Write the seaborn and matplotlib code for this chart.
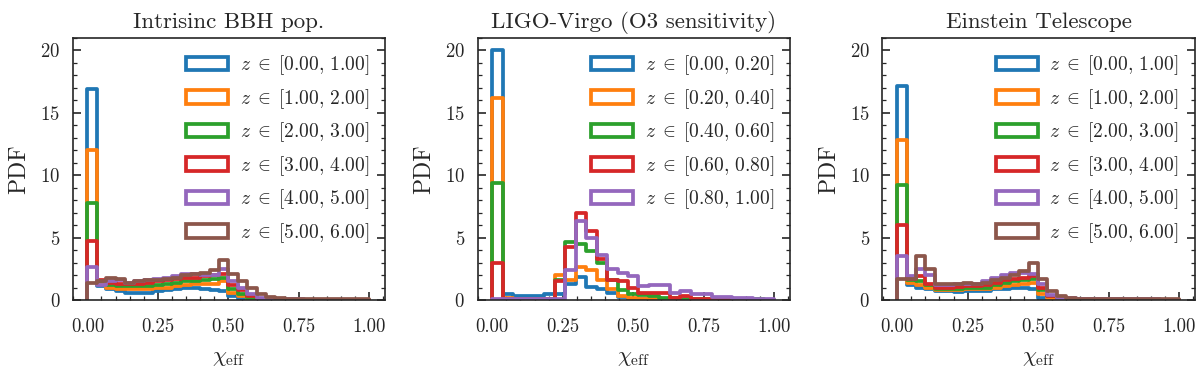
import numpy as np
import pandas as pd
import matplotlib.pyplot as plt
import seaborn as sns
from matplotlib.patches import Patch
from matplotlib.ticker import MultipleLocator

# histogram bin edges of chi_eff for each panel
edges_pop = np.linspace(0, 1, 31)
edges_lvk = np.linspace(0, 1, 28)
edges_et = np.linspace(0, 1, 31)

# redshift bins (legend)
zbins_pop = [0.0, 1.0, 2.0, 3.0, 4.0, 5.0, 6.0]
zbins_lvk = [0.0, 0.2, 0.4, 0.6, 0.8, 1.0]
zbins_et = [0.0, 1.0, 2.0, 3.0, 4.0, 5.0, 6.0]

titles = ["Intrisinc BBH pop.", "LIGO-Virgo (O3 sensitivity)", "Einstein Telescope"]

# PDF heights, panel 1: intrinsic population
pop_z0 = [16.9, 1.1, 0.9, 0.7, 0.6, 0.6, 0.6, 0.7, 0.8, 0.9,
          1.0, 1.0, 0.9, 0.8, 0.7, 0.3, 0.1, 0.02, 0.01, 0.0,
          0.0, 0.0, 0.0, 0.0, 0.0, 0.0, 0.0, 0.0, 0.0, 0.0]
pop_z1 = [12.0, 1.3, 1.0, 0.9, 0.9, 0.9, 0.9, 1.0, 1.0, 1.1,
          1.2, 1.3, 1.3, 1.3, 1.5, 0.6, 0.3, 0.1, 0.03, 0.02,
          0.02, 0.02, 0.01, 0.01, 0.01, 0.01, 0.01, 0.0, 0.0, 0.0]
pop_z2 = [7.8, 1.5, 1.2, 1.1, 1.1, 1.1, 1.1, 1.2, 1.3, 1.4,
          1.5, 1.5, 1.6, 1.7, 1.8, 0.9, 0.5, 0.15, 0.05, 0.03,
          0.03, 0.03, 0.02, 0.02, 0.02, 0.02, 0.01, 0.01, 0.01, 0.01]
pop_z3 = [4.76, 1.6, 1.4, 1.3, 1.3, 1.3, 1.4, 1.5, 1.6, 1.7,
          1.8, 1.8, 1.9, 2.0, 2.1, 1.2, 0.8, 0.3, 0.1, 0.05,
          0.05, 0.04, 0.04, 0.03, 0.03, 0.03, 0.02, 0.02, 0.02, 0.02]
pop_z4 = [2.63, 1.2, 1.5, 1.6, 1.4, 1.5, 1.6, 1.7, 1.8, 1.9,
          2.1, 2.1, 2.0, 2.0, 2.5, 1.5, 1.0, 0.5, 0.2, 0.1,
          0.06, 0.05, 0.05, 0.04, 0.04, 0.04, 0.03, 0.03, 0.03, 0.03]
pop_z5 = [1.33, 1.5, 1.8, 1.7, 1.4, 1.5, 1.6, 1.6, 1.7, 1.8,
          2.0, 2.1, 2.2, 2.4, 3.2, 2.1, 1.5, 1.0, 0.5, 0.27,
          0.15, 0.1, 0.1, 0.1, 0.1, 0.1, 0.1, 0.1, 0.1, 0.1]

# panel 2: LIGO-Virgo O3 detected
lvk_z0 = [20.0, 0.45, 0.3, 0.3, 0.3, 0.5, 0.45, 1.3, 1.85, 1.05,
          0.9, 0.6, 0.25, 0.1, 0.05, 0.03, 0.02, 0.02, 0.01, 0.01,
          0.01, 0.01, 0.0, 0.0, 0.0, 0.0, 0.0]
lvk_z1 = [16.2, 0.15, 0.1, 0.1, 0.1, 0.1, 2.0, 1.6, 2.65, 2.4,
          1.6, 0.85, 0.3, 0.15, 0.08, 0.05, 0.04, 0.03, 0.02, 0.02,
          0.01, 0.01, 0.01, 0.01, 0.0, 0.0, 0.0]
lvk_z2 = [9.4, 0.1, 0.1, 0.1, 0.1, 0.1, 1.6, 4.65, 4.5, 3.9,
          3.0, 1.6, 0.8, 0.5, 0.4, 0.3, 0.2, 0.15, 0.1, 0.1,
          0.1, 0.1, 0.1, 0.1, 0.1, 0.05, 0.0]
lvk_z3 = [3.0, 0.1, 0.1, 0.1, 0.1, 0.1, 1.5, 4.25, 7.0, 5.5,
          3.3, 1.6, 1.5, 1.0, 0.6, 0.6, 0.6, 0.2, 0.3, 0.1,
          0.05, 0.05, 0.05, 0.05, 0.03, 0.03, 0.02]
lvk_z4 = [0.1, 0.05, 0.05, 0.05, 0.05, 0.05, 0.1, 2.4, 6.3, 5.0,
          3.6, 2.5, 2.2, 1.9, 1.1, 1.2, 1.2, 0.6, 0.7, 0.45,
          0.45, 0.27, 0.27, 0.2, 0.13, 0.1, 0.05]

# panel 3: Einstein Telescope detected
et_z0 = [17.1, 1.2, 1.0, 0.9, 0.7, 0.7, 0.65, 0.7, 0.7, 0.75,
         0.85, 0.9, 0.95, 1.0, 0.9, 0.2, 0.05, 0.02, 0.01, 0.01,
         0.0, 0.0, 0.0, 0.0, 0.0, 0.0, 0.0, 0.0, 0.0, 0.0]
et_z1 = [12.8, 1.4, 1.2, 1.0, 0.8, 0.8, 0.8, 0.85, 0.85, 0.9,
         1.0, 1.1, 1.2, 1.3, 1.4, 0.5, 0.15, 0.1, 0.05, 0.03,
         0.03, 0.02, 0.02, 0.02, 0.01, 0.01, 0.01, 0.0, 0.0, 0.0]
et_z2 = [9.2, 1.6, 1.5, 1.2, 0.9, 0.9, 0.9, 0.95, 0.95, 1.0,
         1.2, 1.4, 1.5, 1.6, 1.7, 0.8, 0.3, 0.2, 0.1, 0.05,
         0.05, 0.04, 0.04, 0.03, 0.03, 0.02, 0.02, 0.02, 0.01, 0.01]
et_z3 = [6.0, 1.7, 1.9, 1.3, 1.0, 1.0, 1.05, 1.1, 1.1, 1.2,
         1.4, 1.6, 1.7, 1.8, 1.9, 1.0, 0.3, 0.2, 0.1, 0.08,
         0.08, 0.06, 0.05, 0.05, 0.04, 0.03, 0.03, 0.02, 0.02, 0.02]
et_z4 = [3.5, 1.9, 2.5, 2.0, 1.2, 1.2, 1.3, 1.3, 1.3, 1.5,
         1.8, 2.0, 2.2, 2.2, 2.1, 1.3, 0.4, 0.2, 0.15, 0.1,
         0.1, 0.08, 0.08, 0.08, 0.06, 0.06, 0.05, 0.05, 0.04, 0.04]
et_z5 = [1.7, 1.7, 3.5, 2.5, 1.25, 1.3, 1.3, 1.35, 1.3, 1.4,
         1.6, 1.8, 2.0, 2.3, 3.0, 1.65, 0.7, 0.3, 0.15, 0.1,
         0.1, 0.1, 0.1, 0.1, 0.1, 0.1, 0.1, 0.1, 0.1, 0.1]

panels = [
    (edges_pop, zbins_pop, [pop_z0, pop_z1, pop_z2, pop_z3, pop_z4, pop_z5]),
    (edges_lvk, zbins_lvk, [lvk_z0, lvk_z1, lvk_z2, lvk_z3, lvk_z4]),
    (edges_et, zbins_et, [et_z0, et_z1, et_z2, et_z3, et_z4, et_z5]),
]

sns.set_style("ticks")
plt.rcParams["font.family"] = "serif"
plt.rcParams["font.serif"] = ["cmr10"]
plt.rcParams["mathtext.fontset"] = "cm"
plt.rcParams["axes.formatter.use_mathtext"] = True

colors = sns.color_palette("tab10", 6)
lw = 2.7

fig, axes = plt.subplots(1, 3, figsize=(12, 3.72), dpi=100)
fig.subplots_adjust(left=0.0606, right=0.9955, bottom=0.1935, top=0.8987, wspace=0.297)

for ax, title, (edges, zb, series) in zip(axes, titles, panels):
    centers = 0.5 * (edges[:-1] + edges[1:])
    handles, labels = [], []
    for k, vals in enumerate(series):
        df = pd.DataFrame({"chi": centers, "pdf": vals})
        sns.histplot(data=df, x="chi", weights="pdf", bins=list(edges), element="step",
                     fill=False, color=colors[k], linewidth=lw, ax=ax)
        # close the outline down to zero at both ends (like histtype='step')
        line = ax.lines[-1]
        xd, yd = line.get_data()
        line.set_data(np.r_[xd[0], xd, xd[-1]], np.r_[0, yd, 0])
        handles.append(Patch(facecolor="none", edgecolor=colors[k], linewidth=lw))
        labels.append(r"$z\;\in\;[%.2f,\,%.2f]$" % (zb[k], zb[k + 1]))

    ax.set_xlim(-0.052, 1.055)
    ax.set_ylim(0, 21)
    ax.xaxis.set_major_locator(MultipleLocator(0.25))
    ax.xaxis.set_minor_locator(MultipleLocator(0.05))
    ax.yaxis.set_major_locator(MultipleLocator(5))
    ax.yaxis.set_minor_locator(MultipleLocator(1))
    ax.xaxis.set_major_formatter(plt.FormatStrFormatter("%.2f"))
    ax.tick_params(which="both", direction="in", top=False, right=True, labelsize=13.5)
    ax.tick_params(which="major", length=6, width=1.2)
    ax.tick_params(which="minor", length=3, width=0.9)
    ax.tick_params(axis="x", which="major", pad=13)
    ax.tick_params(axis="y", which="major", pad=9)
    for sp in ax.spines.values():
        sp.set_linewidth(1.2)
    ax.set_title(title, fontsize=16.5, pad=7)
    ax.set_xlabel(r"$\chi_{\rm eff}$", fontsize=16, labelpad=9)
    ax.set_ylabel("PDF", fontsize=17, labelpad=7)
    ax.legend(handles, labels, loc="upper right", frameon=False, fontsize=14,
              handlelength=2.15, handleheight=0.7, handletextpad=0.6, labelspacing=0.5,
              borderaxespad=0.4)

fig.savefig("out.png", dpi=100)
